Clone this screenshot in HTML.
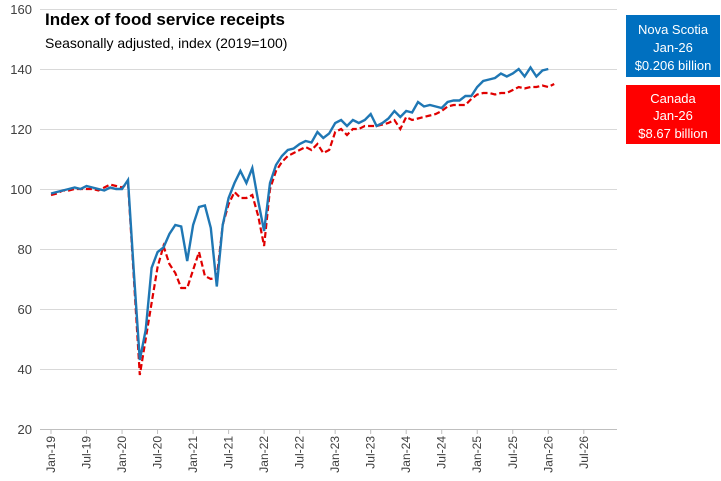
<!DOCTYPE html>
<html><head><meta charset="utf-8"><style>
body{margin:0;background:#fff;}
svg{display:block;font-family:"Liberation Sans",sans-serif;}
</style></head><body>
<svg id="s" width="721" height="481" xmlns="http://www.w3.org/2000/svg">
<rect width="721" height="481" fill="#fff"/>
<g stroke="#d9d9d9" stroke-width="1">
<line x1="40" x2="617" y1="9.5" y2="9.5"/><line x1="40" x2="617" y1="69.5" y2="69.5"/>
<line x1="40" x2="617" y1="129.5" y2="129.5"/><line x1="40" x2="617" y1="189.5" y2="189.5"/>
<line x1="40" x2="617" y1="249.5" y2="249.5"/><line x1="40" x2="617" y1="309.5" y2="309.5"/>
<line x1="40" x2="617" y1="369.5" y2="369.5"/>
</g>
<line x1="40" x2="617" y1="429.5" y2="429.5" stroke="#bfbfbf"/>
<g font-size="13" fill="#404040" text-anchor="end">
<text x="32" y="14">160</text><text x="32" y="74">140</text><text x="32" y="134">120</text>
<text x="32" y="194">100</text><text x="32" y="254">80</text><text x="32" y="314">60</text>
<text x="32" y="374">40</text><text x="32" y="434">20</text>
</g>
<g id="xl" font-size="12" fill="#404040"></g>
<polyline id="ca" fill="none" stroke="#e00000" stroke-width="2.2" stroke-dasharray="6,3"/>
<polyline id="ns" fill="none" stroke="#1f77b4" stroke-width="2.4"/>
<text x="45" y="25" font-size="17" font-weight="bold" fill="#000">Index of food service receipts</text>
<text x="45" y="48" font-size="14" fill="#000">Seasonally adjusted, index (2019=100)</text>
<rect x="626" y="15" width="94" height="62" fill="#0070c0"/>
<g font-size="13" fill="#fff" text-anchor="middle">
<text x="673" y="34">Nova Scotia</text><text x="673" y="52">Jan-26</text><text x="673" y="70">$0.206  billion</text>
</g>
<rect x="626" y="85" width="94" height="59" fill="#ff0000"/>
<g font-size="13" fill="#fff" text-anchor="middle">
<text x="673" y="103">Canada</text><text x="673" y="120">Jan-26</text><text x="673" y="138">$8.67 billion</text>
</g>
</svg>
<script>
var ns=[98.5,99,99.5,100,100.5,100,101,100.5,100,99.5,100.5,100,100,103,72,43,53,73.7,79,80.5,85,88,87.5,76,88,94,94.5,87,67.5,88,97,102,106,102,107,96,86,102,108,111,113,113.5,115,116,115.5,119,117,118.5,122,123,121,123,122,123,125,121,122,123.5,126,124,126,125.5,129,127.5,128,127.5,127,129,129.5,129.5,131,131,134,136,136.5,137,138.5,137.5,138.5,140,137.5,140.5,137.5,139.5,140];
var ca=[98,98.5,99.5,99.5,100,100,100,100,99.5,100.5,101.5,101,100.5,102,70,38,50,62,74,81,75,72,67,67,73,79,71,70,70.5,88,95,99,97,97,98,91,81,100,106,109,111,112,113,114,113,115,112,113,119,120,118,120,120,121,121,121,121.5,122,123,120,124,123,123.5,124,124.5,125,126,127.5,128,128,128,130,131.5,132,132,131.5,132,132,133,134,133.5,134,134,134.5,134,135];
function pts(a){return a.map(function(v,i){return (51+i*5.92).toFixed(1)+","+(429-(v-20)*3).toFixed(1)}).join(" ");}
document.getElementById("ns").setAttribute("points",pts(ns));
document.getElementById("ca").setAttribute("points",pts(ca));
var g=document.getElementById("xl"),mo=["Jan","Jul"],h="";
for(var k=0;k<16;k++){var m=k*6,x=51+m*5.92,lab=mo[k%2]+"-"+(19+Math.floor(k/2));
h+='<line x1="'+x+'" x2="'+x+'" y1="429" y2="434" stroke="#bfbfbf"/>';
h+='<text transform="translate('+(x+4)+',436) rotate(-90)" text-anchor="end">'+lab+'</text>';}
g.innerHTML=h;
</script>
</body></html>
